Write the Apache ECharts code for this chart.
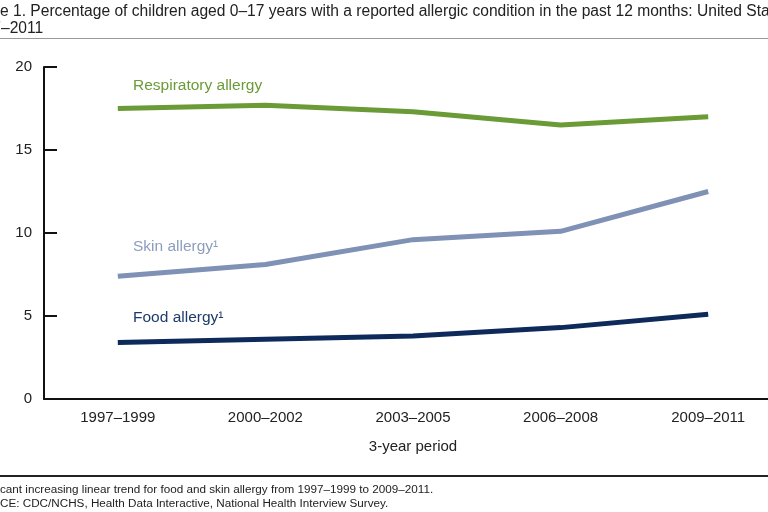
<!DOCTYPE html>
<html><head><meta charset="utf-8">
<script src="https://cdn.jsdelivr.net/npm/echarts@6/dist/echarts.min.js"></script>
<style>html,body{margin:0;padding:0;background:#fff}#c{width:768px;height:512px}</style>
</head><body><div id="c"></div>
<script>
const categories = ['1997–1999','2000–2002','2003–2005','2006–2008','2009–2011'];
const respiratory = [17.5, 17.7, 17.3, 16.5, 17.0];
const skin = [7.4, 8.1, 9.6, 10.1, 12.5];
const food = [3.4, 3.6, 3.8, 4.3, 5.1];
const yTicks = [0, 5, 10, 15, 20];

const FONT = '"Liberation Sans", Arial, sans-serif';
const cv = document.createElement('canvas').getContext('2d');
function w(txt, size){ cv.font = size + 'px ' + FONT; return cv.measureText(txt).width; }

const chart = echarts.init(document.getElementById('c'), null, {renderer:'canvas'});
const lineStyle = (c) => ({width: 5, color: c, cap: 'butt'});
chart.setOption({
  animation: false,
  textStyle: {fontFamily: FONT},
  grid: {left: 44, top: 67, right: -14, bottom: 113, containLabel: false, outerBoundsMode: 'none'},
  xAxis: {
    type: 'category', data: categories, boundaryGap: true,
    name: '3-year period', nameLocation: 'middle', nameGap: 40,
    nameTextStyle: {fontSize: 15, color: '#222', fontFamily: FONT},
    axisLine: {lineStyle: {color: '#111', width: 2}},
    axisTick: {inside: true, alignWithLabel: true, length: 13, lineStyle: {color: '#111', width: 2}},
    axisLabel: {fontSize: 15, color: '#222', margin: 11, fontFamily: FONT}
  },
  yAxis: {
    type: 'value', min: 0, max: 20, interval: 5,
    axisLine: {show: true, lineStyle: {color: '#111', width: 2}},
    axisTick: {show: true, inside: true, length: 13, lineStyle: {color: '#111', width: 2}},
    splitLine: {show: false},
    axisLabel: {fontSize: 15, color: '#222', margin: 12, fontFamily: FONT,
      formatter: v => yTicks.includes(v) ? String(v) : ''}
  },
  series: [
    {name: 'Respiratory allergy', type: 'line', data: respiratory, symbol: 'none', lineStyle: lineStyle('#6b9b36')},
    {name: 'Skin allergy', type: 'line', data: skin, symbol: 'none', lineStyle: lineStyle('#7f91b5')},
    {name: 'Food allergy', type: 'line', data: food, symbol: 'none', lineStyle: lineStyle('#0d2a5a')}
  ],
  graphic: [
    {type: 'text', x: -w('Figur', 15.6), y: 4, style: {text: 'Figure 1. Percentage of children aged 0–17 years with a reported allergic condition in the past 12 months: United States,', font: '15.6px ' + FONT, fill: '#222'}},
    {type: 'text', x: -w('1997', 15.6) + 1, y: 21, style: {text: '1997–2011', font: '15.6px ' + FONT, fill: '#222'}},
    {type: 'rect', shape: {x: 0, y: 38, width: 768, height: 1}, style: {fill: '#999'}},
    {type: 'rect', shape: {x: 0, y: 475, width: 768, height: 2}, style: {fill: '#222'}},
    {type: 'text', x: -w('¹Signifi', 11.7), y: 484, style: {text: '¹Significant increasing linear trend for food and skin allergy from 1997–1999 to 2009–2011.', font: '11.7px ' + FONT, fill: '#222'}},
    {type: 'text', x: -w('SOUR', 11.7), y: 498, style: {text: 'SOURCE: CDC/NCHS, Health Data Interactive, National Health Interview Survey.', font: '11.7px ' + FONT, fill: '#222'}},
    {type: 'text', x: 133, y: 78, style: {text: 'Respiratory allergy', font: '15.5px ' + FONT, fill: '#6b9b36'}},
    {type: 'text', x: 133, y: 239, style: {text: 'Skin allergy¹', font: '15.5px ' + FONT, fill: '#8c9dbd'}},
    {type: 'text', x: 133, y: 310, style: {text: 'Food allergy¹', font: '15.5px ' + FONT, fill: '#1c3a6b'}}
  ]
});
</script></body></html>
